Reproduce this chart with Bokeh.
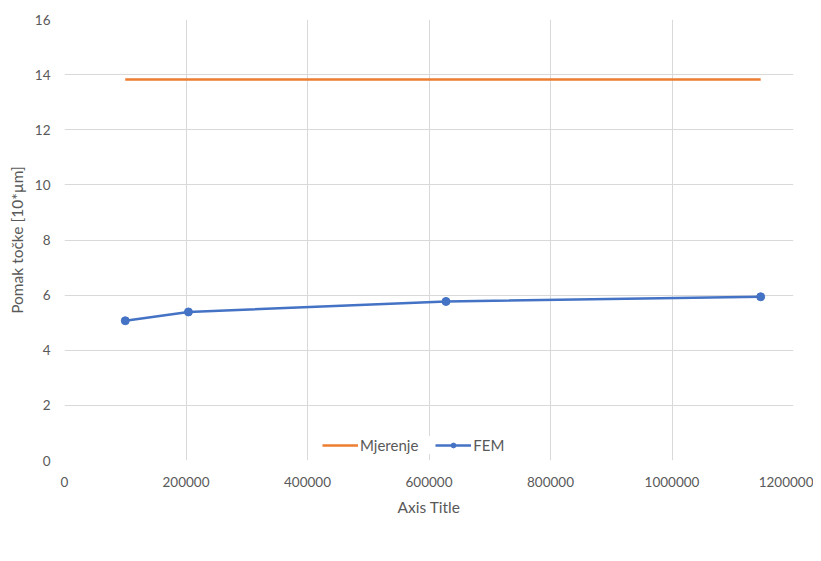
from bokeh.plotting import figure
from bokeh.models import FixedTicker, Legend, LegendItem, Range1d, NumeralTickFormatter
from bokeh.embed import file_html
from bokeh.resources import INLINE

x_values = [100000, 204000, 628000, 1146000]
mjerenje = [13.82, 13.82, 13.82, 13.82]
fem = [5.07, 5.39, 5.77, 5.94]
x_ticks = [0, 200000, 400000, 600000, 800000, 1000000, 1200000]
y_ticks = [0, 2, 4, 6, 8, 10, 12, 14, 16]

FONT = "Lato"
TXT = "#595959"
GRID = "#d9d9d9"

p = figure(frame_width=729, frame_height=441, output_backend="svg", toolbar_location=None,
           x_range=Range1d(0, 1200000), y_range=Range1d(0, 16),
           min_border_left=64, min_border_right=20, min_border_top=19, min_border_bottom=80)
p.outline_line_color = None
p.background_fill_color = "white"

for ax in (p.xaxis[0], p.yaxis[0]):
    ax.axis_line_color = None
    ax.major_tick_line_color = None
    ax.minor_tick_line_color = None
    ax.major_label_text_font = FONT
    ax.major_label_text_font_size = "13.5px"
    ax.major_label_text_color = TXT
    ax.axis_label_text_font = FONT
    ax.axis_label_text_font_size = "15.5px"
    ax.axis_label_text_font_style = "normal"
    ax.axis_label_text_color = TXT

p.xaxis.ticker = FixedTicker(ticks=x_ticks)
p.yaxis.ticker = FixedTicker(ticks=y_ticks)
p.xaxis.formatter = NumeralTickFormatter(format="0")
p.xaxis.axis_label = "Axis Title"
p.yaxis.axis_label = "Pomak točke [10*µm]"
p.xaxis.major_label_standoff = 10
p.yaxis.major_label_standoff = 8
p.xaxis.axis_label_standoff = 8
p.yaxis.axis_label_standoff = 6

p.xgrid.grid_line_color = GRID
p.ygrid.grid_line_color = GRID
p.xgrid.ticker = FixedTicker(ticks=x_ticks)
p.ygrid.ticker = FixedTicker(ticks=y_ticks)

r1 = p.line(x_values, mjerenje, line_color="#ED7D31", line_width=2.5)
r2 = p.line(x_values, fem, line_color="#4472C4", line_width=2.5)
r3 = p.scatter(x_values, fem, marker="circle", size=8, fill_color="#4472C4", line_color="#4472C4")

legend = Legend(items=[LegendItem(label="Mjerenje", renderers=[r1]),
                       LegendItem(label="FEM", renderers=[r2, r3])],
                orientation="horizontal", location=(258, 6),
                label_text_font=FONT, label_text_font_size="15px", label_text_color=TXT,
                glyph_width=36, glyph_height=12, spacing=17, label_standoff=2,
                border_line_color=None, background_fill_color="white", background_fill_alpha=1,
                padding=2, margin=0)
p.add_layout(legend, "center")

open("out.html", "w").write(file_html(p, INLINE))
